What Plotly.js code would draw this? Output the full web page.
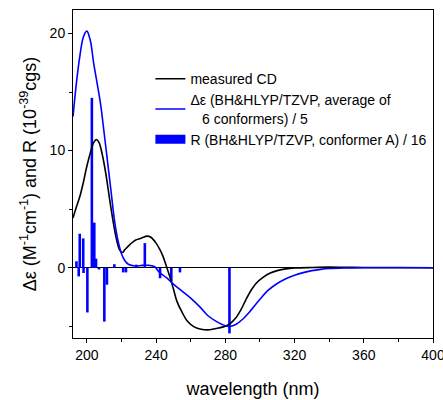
<!DOCTYPE html>
<html>
<head>
<meta charset="utf-8">
<script src="https://cdn.plot.ly/plotly-3.0.1.min.js"></script>
<style>html,body{margin:0;padding:0;background:#fff;}</style>
</head>
<body>
<div id="chart" style="width:443px;height:400px;"></div>
<script>
// measured CD
const cdWavelength = [192,194,196,198,200,202,204,205.5,207,209,211,213,215,217,219,220.5,222,225,228,231,235,237,240,242,244,246,248,250,252,255,258,262,266,271,276,280,283,286,289,292,295,298,302,306,310,315,320,330,340,350,360,380,400];
const cdValues     = [4.25,5.2,6.1,7.3,8.66,9.8,10.7,10.95,10.7,9.6,8.0,6.0,4.1,2.5,1.5,1.3,1.55,2.0,2.35,2.5,2.7,2.6,2.1,1.6,0.97,0.1,-0.8,-1.8,-2.85,-3.8,-4.55,-5.05,-5.25,-5.3,-5.15,-5.0,-4.75,-4.3,-3.6,-2.7,-1.9,-1.3,-0.8,-0.45,-0.25,-0.1,-0.03,0.02,0.05,0.03,0.02,0.02,0.0];

// calculated average spectrum / 5
const calcWavelength = [192,194,196,198,200,202,204,206,208,210,212,214,216,218,220,222,224,228,232,236,239,242,246,250,255,260,265,270,275,280,283,286,290,295,300,305,310,315,320,325,330,335,340,350,360,380,400];
const calcValues     = [12.9,15.8,18.1,19.7,20.2,19.4,17.4,15.7,13.9,11.5,9.0,6.5,4.0,2.3,1.2,0.6,0.3,0.15,0.2,0.2,0.1,-0.4,-0.85,-1.4,-2.0,-2.6,-3.3,-4.1,-4.6,-4.95,-5.0,-4.85,-4.4,-3.6,-2.7,-1.9,-1.35,-0.95,-0.65,-0.42,-0.25,-0.14,-0.07,-0.02,0,0,0];

// rotational strengths of conformer A / 16
const barWavelength = [194.0,195.3,195.9,197.9,198.1,200.3,202.9,204.3,205.3,207.0,210.1,211.6,215.9,221.0,222.6,228.6,233.5,242.3,248.8,253.8,282.4];
const barValues     = [0.55,-0.74,2.9,2.5,-0.45,-3.82,14.5,3.85,0.77,-0.15,-4.6,-1.45,0.3,-0.4,-0.4,0.26,2.1,-0.9,-1.2,-0.4,-5.6];

const FONT = "Liberation Sans, Arial, sans-serif";
const BLUE = "#0000ff";
const barName = "R (BH&amp;HLYP/TZVP, conformer A) / 16";

const traces = [
  {
    type: "scatter", mode: "lines", name: "measured CD",
    x: cdWavelength, y: cdValues,
    line: {color: "#000000", width: 1.6, shape: "spline", smoothing: 1},
    hoverinfo: "skip"
  },
  {
    type: "scatter", mode: "lines",
    name: "Δε (BH&amp;HLYP/TZVP, average of<br>\u00a0\u00a0\u00a06 conformers) / 5",
    x: calcWavelength, y: calcValues,
    line: {color: BLUE, width: 1.6, shape: "spline", smoothing: 1},
    hoverinfo: "skip"
  },
  {
    type: "bar", name: barName, showlegend: false, legendgroup: "bars",
    x: barWavelength, y: barValues, width: 1.5,
    marker: {color: BLUE, line: {width: 0}},
    hoverinfo: "skip"
  },
  {
    // legend swatch only (wide filled rectangle, as in the reference)
    type: "scatter", mode: "lines", name: barName, legendgroup: "bars",
    x: [null], y: [null],
    line: {color: BLUE, width: 9},
    hoverinfo: "skip"
  }
];

const layout = {
  width: 443, height: 400,
  margin: {l: 73, r: 10, t: 10, b: 62},
  paper_bgcolor: "#ffffff", plot_bgcolor: "#ffffff",
  font: {family: FONT, size: 14, color: "#000"},
  barmode: "overlay",
  showlegend: true,
  legend: {
    x: 0.215, y: 0.838, xanchor: "left", yanchor: "top",
    bgcolor: "rgba(0,0,0,0)", borderwidth: 0,
    font: {family: FONT, size: 14, color: "#000"},
    tracegroupgap: 0, itemwidth: 30, traceorder: "normal"
  },
  xaxis: {
    range: [192, 400], tick0: 200, dtick: 40,
    automargin: false,
    showline: true, linecolor: "#000", linewidth: 1, mirror: true,
    ticks: "outside", ticklen: 4, tickcolor: "#000",
    minor: {dtick: 20, tick0: 200, ticks: "outside", ticklen: 3, tickcolor: "#000"},
    showgrid: false, zeroline: false,
    ticklabeloverflow: "allow",
    tickfont: {family: FONT, size: 14},
    title: {text: "wavelength (nm)", font: {family: FONT, size: 18}, standoff: 20}
  },
  yaxis: {
    range: [-6, 22], tick0: 0, dtick: 10,
    automargin: false,
    showline: true, linecolor: "#000", linewidth: 1, mirror: true,
    ticks: "outside", ticklen: 4, tickcolor: "#000",
    minor: {dtick: 5, tick0: 0, ticks: "outside", ticklen: 3, tickcolor: "#000"},
    showgrid: false,
    zeroline: true, zerolinecolor: "#000", zerolinewidth: 1,
    tickfont: {family: FONT, size: 14},
    title: {text: "Δε (M<sup>-1</sup>cm<sup>-1</sup>) and R (10<sup>-39</sup>cgs)", font: {family: FONT, size: 18}, standoff: 8}
  }
};

Plotly.newPlot("chart", traces, layout, {displayModeBar: false, staticPlot: true});
</script>
</body>
</html>
